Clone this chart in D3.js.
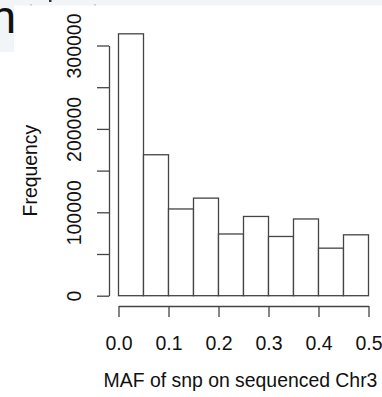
<!DOCTYPE html>
<html>
<head>
<meta charset="utf-8">
<script src="https://cdn.jsdelivr.net/npm/d3@7"></script>
<style>
  html, body { margin: 0; padding: 0; background: #fff; }
  svg { display: block; }
  text { font-family: "Liberation Sans", Arial, sans-serif; fill: #111; }
</style>
</head>
<body>
<svg id="svg_maf" width="382" height="397"></svg>
<script>
// histogram of MAF, bins of 0.05
const binStarts = [0.0, 0.05, 0.1, 0.15, 0.2, 0.25, 0.3, 0.35, 0.4, 0.45]
const binWidth = 0.05
const counts = [314000, 169000, 104000, 117000, 74000, 95000, 71000, 92000, 57000, 73000]
const xTicks = [0.0, 0.1, 0.2, 0.3, 0.4, 0.5]
const yTicks = [0, 50000, 100000, 150000, 200000, 250000, 300000]
const yLabelTicks = [0, 100000, 200000, 300000]

const xTitle = 'MAF of snp on sequenced Chr3'
const yTitle = 'Frequency'

function draw() {
  const svg = d3.select('#svg_maf')

  // bits of the page cut off above the plot
  svg.append('rect').attr('x', 0).attr('y', 0).attr('width', 382).attr('height', 5.5).attr('fill', '#f1f5f8')
  svg.append('rect').attr('x', 0).attr('y', 0).attr('width', 14).attr('height', 52).attr('fill', '#f1f5f8')
  svg.append('clipPath').attr('id', 'boxClip')
    .append('rect').attr('x', 0).attr('y', 0).attr('width', 14.5).attr('height', 52)
  svg.append('text').text('n')
    .attr('x', -10).attr('y', 33)
    .attr('clip-path', 'url(#boxClip)')
    .style('font-size', '47px')
  svg.append('rect').attr('x', 30).attr('y', 4).attr('width', 2).attr('height', 1.5).attr('fill', '#c8cccf')
  svg.append('rect').attr('x', 49).attr('y', 0).attr('width', 2.5).attr('height', 2).attr('fill', '#333')
  svg.append('rect').attr('x', 94).attr('y', 4).attr('width', 2).attr('height', 1.5).attr('fill', '#c8cccf')

  const xScale = d3.scaleLinear()
    .domain([0, 0.5])
    .range([118.5, 368.5])

  const yScale = d3.scaleLinear()
    .domain([0, 300000])
    .range([295.7, 45.5])

  // bars
  svg.append('g')
    .selectAll('rect')
    .data(binStarts)
    .enter()
    .append('rect')
    .attr('x', (d) => xScale(d))
    .attr('y', (d, i) => yScale(counts[i]))
    .attr('width', (d) => xScale(d + binWidth) - xScale(d))
    .attr('height', (d, i) => yScale(0) - yScale(counts[i]))
    .attr('fill', 'white')
    .attr('stroke', '#444')
    .attr('stroke-width', 1.3)

  // x axis, R style: detached below the bars
  const bottomAxis = d3.axisBottom(xScale)
    .tickValues(xTicks)
    .tickFormat(d3.format('.1f'))
    .tickSize(11)
    .tickSizeOuter(0)
    .tickPadding(19)

  const xAxis = svg.append('g')
    .attr('transform', 'translate(0, 306)')
    .call(bottomAxis)
  xAxis.select('.domain').attr('stroke', '#444').attr('stroke-width', 1.3)
  xAxis.selectAll('.tick line').attr('stroke', '#444').attr('stroke-width', 1.3)
  xAxis.selectAll('.tick text')
    .style('font-size', '19.5px')
    .attr('fill', '#111')
    .style('font-family', '"Liberation Sans", Arial, sans-serif')

  // y axis
  const leftAxis = d3.axisLeft(yScale)
    .tickValues(yTicks)
    .tickFormat((d) => yLabelTicks.includes(d) ? d3.format('d')(d) : '')
    .tickSize(12)
    .tickSizeOuter(0)

  const yAxis = svg.append('g')
    .attr('transform', 'translate(109, 0)')
    .call(leftAxis)
  yAxis.select('.domain').attr('stroke', '#444').attr('stroke-width', 1.3)
  yAxis.selectAll('.tick line').attr('stroke', '#444').attr('stroke-width', 1.3)
  yAxis.selectAll('.tick text')
    .attr('x', null).attr('dy', null)
    .attr('transform', 'translate(-28, 0) rotate(-90)')
    .attr('text-anchor', 'middle')
    .style('font-size', '19.5px')
    .attr('fill', '#111')
    .style('font-family', '"Liberation Sans", Arial, sans-serif')

  // titles
  svg.append('text')
    .text(xTitle)
    .attr('x', 240.5)
    .attr('y', 387)
    .attr('text-anchor', 'middle')
    .style('font-size', '19.4px')

  svg.append('text')
    .text(yTitle)
    .attr('transform', `translate(37, ${yScale(150000)}) rotate(-90)`)
    .attr('text-anchor', 'middle')
    .style('font-size', '19.4px')
}

draw()
</script>
</body>
</html>
